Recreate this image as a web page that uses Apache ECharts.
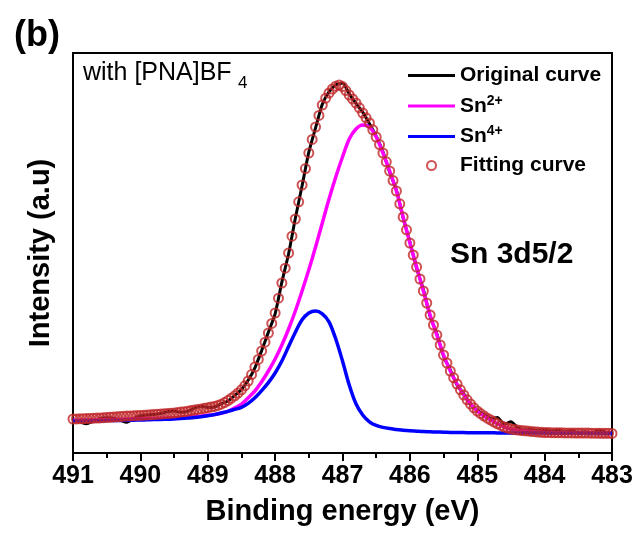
<!DOCTYPE html>
<html>
<head>
<meta charset="utf-8">
<script src="https://cdn.jsdelivr.net/npm/echarts@6/dist/echarts.min.js"></script>
<style>
  html, body { margin: 0; padding: 0; background: #fff; }
  #chart { width: 636px; height: 533px; }
</style>
</head>
<body>
<div id="chart"></div>
<script>
// Sn 3d5/2 XPS spectrum with peak fitting (binding energy axis runs high -> low)

// Fitted envelope, sampled every 0.05 eV from 491.00 down to 483.00 eV
const fitStart = 491.0;
const fitStep = 0.05;
const fittingCurve = [
  8.5, 8.52, 8.55, 8.58, 8.6, 8.65, 8.7, 8.74, 8.78, 8.84,
  8.9, 8.95, 9.0, 9.05, 9.1, 9.17, 9.23, 9.28, 9.33, 9.37,
  9.4, 9.45, 9.5, 9.56, 9.62, 9.68, 9.74, 9.8, 9.87, 9.93,
  10.0, 10.1, 10.22, 10.34, 10.46, 10.6, 10.75, 10.88, 11.03, 11.18,
  11.33, 11.5, 11.65, 11.9, 12.2, 12.6, 13.1, 13.7, 14.3, 15.0,
  15.8, 16.8, 18.0, 19.6, 21.5, 23.4, 25.5, 27.7, 30.0, 32.4,
  35.0, 38.7, 42.5, 46.2, 50.0, 54.2, 58.5, 62.8, 67.0, 71.1,
  75.0, 78.4, 81.5, 84.4, 87.0, 88.7, 90.0, 91.0, 91.7, 92.0,
  91.6, 90.6, 89.5, 88.5, 87.5, 86.3, 85.0, 83.8, 82.5, 80.8,
  79.0, 77.1, 75.0, 72.8, 70.5, 68.1, 65.5, 62.3, 59.0, 55.8,
  52.5, 49.5, 46.5, 43.5, 40.5, 37.5, 34.5, 32.0, 29.5, 27.0,
  24.5, 22.5, 20.5, 18.8, 17.25, 15.8, 14.5, 13.3, 12.25, 11.3,
  10.5, 9.85, 9.25, 8.7, 8.25, 7.75, 7.3, 6.9, 6.5, 6.25,
  6.0, 5.85, 5.75, 5.65, 5.55, 5.48, 5.4, 5.32, 5.25, 5.18,
  5.12, 5.1, 5.08, 5.06, 5.05, 5.04, 5.03, 5.02, 5.01, 5.0,
  5.0, 4.99, 4.98, 4.97, 4.96, 4.95, 4.94, 4.93, 4.92, 4.91,
  4.9
];

// Measured spectrum and fitted components, sampled every 0.1 eV from 491.0 down to 483.0 eV
const lineStart = 491.0;
const lineStep = 0.1;
const originalCurve = [
  8.2, 7.8, 7.3, 7.9, 8.6, 8.8, 8.7, 8.2, 7.7, 8.6,
  9.3, 9.5, 9.6, 9.9, 10.3, 10.5, 10.2, 10.4, 11.2, 11.7,
  11.4, 11.5, 12.3, 13.0, 14.4, 15.9, 18.2, 21.3, 25.6, 30.2,
  34.8, 42.7, 49.8, 58.7, 66.8, 75.2, 81.3, 87.2, 90.3, 92.0,
  92.5, 89.8, 87.4, 85.2, 82.3, 79.2, 75.3, 70.2, 65.8, 58.7,
  52.8, 46.2, 40.9, 34.2, 29.8, 24.2, 20.8, 17.0, 14.8, 12.1,
  10.7, 9.6, 8.6, 8.9, 7.2, 7.8, 6.4, 5.7, 5.9, 5.5,
  5.9, 5.4, 5.8, 5.2, 5.6, 5.1, 5.3, 5.0, 5.7, 5.2,
  5.0
];
const sn2Curve = [
  8.2, 8.22, 8.25, 8.28, 8.3, 8.35, 8.38, 8.42, 8.46, 8.5,
  8.55, 8.6, 8.65, 8.7, 8.76, 8.82, 8.9, 8.98, 9.1, 9.25,
  9.42, 9.65, 9.95, 10.4, 11.3, 12.2, 13.8, 15.5, 17.8, 20.5,
  23.5, 27.0, 31.0, 35.5, 40.5, 45.8, 51.5, 57.5, 63.5, 69.0,
  74.0, 78.5, 81.0, 82.0, 81.5, 79.0, 75.0, 70.5, 65.5, 59.0,
  52.5, 46.5, 40.5, 34.5, 29.5, 24.5, 20.5, 17.25, 14.5, 12.25,
  10.5, 9.25, 8.25, 7.3, 6.5, 6.0, 5.75, 5.55, 5.4, 5.25,
  5.12, 5.08, 5.05, 5.03, 5.01, 5.0, 4.98, 4.96, 4.94, 4.92,
  4.9
];
const sn4Curve = [
  8.0, 8.02, 8.04, 8.06, 8.08, 8.1, 8.12, 8.15, 8.18, 8.2,
  8.25, 8.3, 8.35, 8.4, 8.45, 8.5, 8.6, 8.72, 8.85, 9.05,
  9.3, 9.6, 10.0, 10.4, 10.9, 11.4, 12.4, 13.8, 15.6, 17.6,
  20.0, 23.0, 26.6, 30.2, 33.3, 35.0, 35.5, 34.8, 32.8, 28.5,
  23.0, 17.0, 12.3, 9.5, 7.8, 6.9, 6.4, 6.1, 5.9, 5.7,
  5.55, 5.45, 5.35, 5.3, 5.25, 5.2, 5.15, 5.12, 5.1, 5.08,
  5.06, 5.05, 5.04, 5.03, 5.02, 5.01, 5.0, 5.0, 4.99, 4.98,
  4.97, 4.96, 4.95, 4.94, 4.93, 4.92, 4.91, 4.9, 4.9, 4.9,
  4.9
];

// Axis range and tick labels
const energyMin = 483;
const energyMax = 491;
const energyTicks = [491, 490, 489, 488, 487, 486, 485, 484, 483];

const seriesNames = ['Original curve', 'Sn2+', 'Sn4+', 'Fitting curve'];

function pairUp(start, step, values) {
  return values.map((v, i) => [Math.round((start - i * step) * 1000) / 1000, v]);
}

const FONT = '"Liberation Sans", Arial, Helvetica, sans-serif';
const FIT_RED = '#c0282a';

const chart = echarts.init(document.getElementById('chart'), null, { renderer: 'canvas' });

const legendRich = {
  t: { fontFamily: FONT, fontSize: 21, fontWeight: 'bold', color: '#000', lineHeight: 24 },
  s: { fontFamily: FONT, fontSize: 14, fontWeight: 'bold', color: '#000', lineHeight: 15, verticalAlign: 'top' }
};

chart.setOption({
  animation: false,
  backgroundColor: '#fff',
  title: {
    text: '(b)',
    left: 9,
    top: 13,
    textStyle: { fontFamily: FONT, fontSize: 36, fontWeight: 'bold', color: '#000' }
  },
  grid: {
    left: 73, top: 53, width: 539, height: 400,
    show: true, borderColor: '#000', borderWidth: 2, backgroundColor: 'transparent'
  },
  legend: {
    orient: 'vertical',
    left: 403,
    top: 60,
    itemWidth: 47,
    itemHeight: 9,
    itemGap: 8,
    symbolKeepAspect: true,
    selectedMode: false,
    data: [
      { name: seriesNames[0], icon: 'path://M0,0H47V3H0Z', itemStyle: { color: '#000', borderWidth: 0 } },
      { name: seriesNames[1], icon: 'path://M0,0H47V3H0Z', itemStyle: { color: '#ff00ff', borderWidth: 0 } },
      { name: seriesNames[2], icon: 'path://M0,0H47V3H0Z', itemStyle: { color: '#0000ff', borderWidth: 0 } },
      { name: seriesNames[3], icon: 'circle', itemStyle: { color: 'rgba(0,0,0,0)', borderColor: FIT_RED, borderWidth: 2 } }
    ],
    formatter: function (name) {
      if (name === 'Sn2+') return '{t|Sn}{s|2+}';
      if (name === 'Sn4+') return '{t|Sn}{s|4+}';
      return '{t|' + name + '}';
    },
    textStyle: { rich: legendRich }
  },
  xAxis: {
    type: 'value',
    inverse: true,
    min: energyMin,
    max: energyMax,
    interval: 1,
    name: 'Binding energy (eV)',
    nameLocation: 'middle',
    nameGap: 44,
    nameTextStyle: { fontFamily: FONT, fontSize: 29, fontWeight: 'bold', color: '#000' },
    axisLine: { show: true, onZero: false, lineStyle: { color: '#000', width: 2 } },
    axisTick: { show: true, inside: false, length: 8, lineStyle: { color: '#000', width: 2 } },
    minorTick: { show: true, splitNumber: 2, length: 5, lineStyle: { color: '#000', width: 2 } },
    axisLabel: {
      margin: 11,
      fontFamily: FONT, fontSize: 25, fontWeight: 'bold', color: '#000',
      formatter: function (v) { return energyTicks.indexOf(v) >= 0 ? String(v) : ''; }
    },
    splitLine: { show: false }
  },
  yAxis: {
    type: 'value',
    min: 0,
    max: 100,
    name: 'Intensity (a.u)',
    nameLocation: 'middle',
    nameGap: 18,
    nameTextStyle: { fontFamily: FONT, fontSize: 29, fontWeight: 'bold', color: '#000' },
    axisLine: { show: true, onZero: false, lineStyle: { color: '#000', width: 2 } },
    axisTick: { show: false },
    axisLabel: { show: false },
    splitLine: { show: false }
  },
  graphic: [
    {
      type: 'text', left: 83, top: 61, silent: true,
      style: { text: 'with [PNA]BF', fontFamily: FONT, fontSize: 25, fill: '#000' }
    },
    {
      type: 'text', left: 238, top: 75, silent: true,
      style: { text: '4', fontFamily: FONT, fontSize: 17, fill: '#000' }
    },
    {
      type: 'text', left: 450, top: 240, silent: true,
      style: { text: 'Sn 3d5/2', fontFamily: FONT, fontSize: 30, fontWeight: 'bold', fill: '#000' }
    }
  ],
  series: [
    {
      name: seriesNames[0], type: 'line', data: pairUp(lineStart, lineStep, originalCurve),
      showSymbol: false, smooth: 0.2, z: 2,
      lineStyle: { color: '#000', width: 3 }, itemStyle: { color: '#000' }
    },
    {
      name: seriesNames[1], type: 'line', data: pairUp(lineStart, lineStep, sn2Curve),
      showSymbol: false, smooth: 0.3, z: 3,
      lineStyle: { color: '#ff00ff', width: 3.5 }, itemStyle: { color: '#ff00ff' }
    },
    {
      name: seriesNames[2], type: 'line', data: pairUp(lineStart, lineStep, sn4Curve),
      showSymbol: false, smooth: 0.3, z: 3,
      lineStyle: { color: '#0000ff', width: 3.5 }, itemStyle: { color: '#0000ff' }
    },
    {
      name: seriesNames[3], type: 'scatter', data: pairUp(fitStart, fitStep, fittingCurve),
      symbol: 'circle', symbolSize: 9, z: 4,
      itemStyle: { color: 'rgba(0,0,0,0)', borderColor: FIT_RED, borderWidth: 2 }
    }
  ]
});
</script>
</body>
</html>
